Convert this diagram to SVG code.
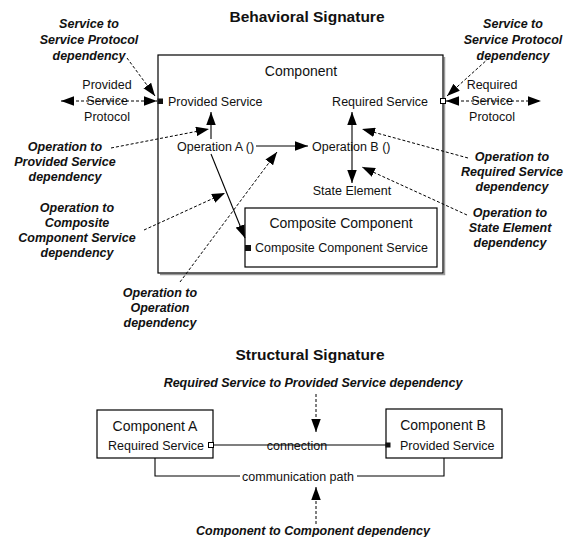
<svg xmlns="http://www.w3.org/2000/svg" width="574" height="537" viewBox="0 0 574 537">
<style>
text{font-family:"Liberation Sans",Arial,sans-serif;fill:#111}
.t{font-size:12.5px}
.big{font-size:14px}
.title{font-size:15.5px;font-weight:bold}
.lbl{font-size:12.5px;font-weight:bold;font-style:italic;text-anchor:middle}
.c{text-anchor:middle}
.box{fill:#fff;stroke:#000;stroke-width:1.2}
.shadow{fill:none;stroke:#9a9a9a;stroke-width:1.5}
.ln{fill:none;stroke:#000;stroke-width:1.1}
.dash{fill:none;stroke:#000;stroke-width:1;stroke-dasharray:3,2}
.arr{marker-end:url(#ah)}
.arr2{marker-start:url(#ah);marker-end:url(#ah)}
</style>
<defs>
<marker id="ah" markerUnits="userSpaceOnUse" markerWidth="14" markerHeight="10" refX="13" refY="4.75" orient="auto-start-reverse" viewBox="0 0 14 9.5">
<path d="M0,0 L13,4.75 L0,9.5 z" fill="#000"/>
</marker>
</defs>

<text class="title c" x="307" y="22">Behavioral Signature</text>

<g id="component">
<path class="shadow" d="M444.5,57 V274.5 H160"/>
<rect class="box" x="158" y="55" width="285" height="218"/>
<text class="big c" x="301" y="76">Component</text>
</g>

<g id="provided-service">
<text class="t" x="168" y="106">Provided Service</text>
</g>
<g id="required-service">
<text class="t" x="428" y="106" text-anchor="end">Required Service</text>
</g>
<g id="operation-a">
<text class="t" x="177" y="151">Operation A ()</text>
</g>
<g id="operation-b">
<text class="t" x="312" y="151">Operation B ()</text>
</g>
<g id="state-element">
<text class="t c" x="352" y="195">State Element</text>
</g>
<g id="composite-component">
<rect class="box" x="245" y="208" width="192" height="59"/>
<text class="big c" x="341" y="228">Composite Component</text>
<text class="t" x="255" y="252">Composite Component Service</text>
</g>

<g id="provided-protocol">
<text class="t c" x="107" y="89">Provided</text>
<text class="t c" x="107" y="105">Service</text>
<text class="t c" x="107" y="121">Protocol</text>
</g>
<g id="required-protocol">
<text class="t c" x="492" y="89">Required</text>
<text class="t c" x="492" y="105">Service</text>
<text class="t c" x="492" y="121">Protocol</text>
</g>

<g id="labels-behavioral">
<text class="lbl" x="89" y="28">Service to</text>
<text class="lbl" x="89" y="44">Service Protocol</text>
<text class="lbl" x="89" y="60">dependency</text>
<text class="lbl" x="513" y="28">Service to</text>
<text class="lbl" x="513" y="44">Service Protocol</text>
<text class="lbl" x="513" y="60">dependency</text>
<text class="lbl" x="65" y="151">Operation to</text>
<text class="lbl" x="65" y="166">Provided Service</text>
<text class="lbl" x="65" y="181">dependency</text>
<text class="lbl" x="77" y="212">Operation to</text>
<text class="lbl" x="77" y="227">Composite</text>
<text class="lbl" x="77" y="242">Component Service</text>
<text class="lbl" x="77" y="257">dependency</text>
<text class="lbl" x="160" y="297">Operation to</text>
<text class="lbl" x="160" y="312">Operation</text>
<text class="lbl" x="160" y="327">dependency</text>
<text class="lbl" x="512" y="161">Operation to</text>
<text class="lbl" x="512" y="176">Required Service</text>
<text class="lbl" x="512" y="191">dependency</text>
<text class="lbl" x="510" y="217">Operation to</text>
<text class="lbl" x="510" y="232">State Element</text>
<text class="lbl" x="510" y="247">dependency</text>
</g>

<g id="connectors-behavioral">
<line class="dash arr2" x1="61" y1="101" x2="157" y2="101"/>
<line class="dash arr2" x1="446" y1="101" x2="541" y2="101"/>
<line class="ln arr" x1="211" y1="139" x2="211" y2="112"/>
<line class="ln arr" x1="256" y1="146" x2="308" y2="146"/>
<line class="ln arr2" x1="352" y1="112" x2="352" y2="183"/>
<line class="ln arr" x1="211" y1="154" x2="245" y2="238"/>
<line class="dash arr" x1="127" y1="58" x2="155" y2="96"/>
<line class="dash arr" x1="489" y1="58" x2="447" y2="96"/>
<line class="dash arr" x1="111" y1="148" x2="209" y2="129"/>
<line class="dash arr" x1="144" y1="230" x2="225" y2="193"/>
<line class="dash arr" x1="180" y1="282" x2="277" y2="152"/>
<line class="dash arr" x1="468" y1="158" x2="362" y2="129"/>
<line class="dash arr" x1="467" y1="215" x2="362" y2="167"/>
<rect x="157.5" y="98.5" width="5.5" height="5.5" fill="#111"/>
<rect x="440.5" y="98.5" width="5" height="5" fill="#fff" stroke="#000" stroke-width="1"/>
<rect x="245" y="245" width="6" height="6" fill="#111"/>
</g>

<text class="title c" x="310" y="360">Structural Signature</text>

<g id="component-a">
<rect class="box" x="97" y="410" width="116" height="48"/>
<text class="big c" x="155" y="431">Component A</text>
<text class="t" x="108" y="449.5">Required Service</text>
</g>
<g id="component-b">
<rect class="box" x="386" y="409" width="116" height="49"/>
<text class="big c" x="443" y="430">Component B</text>
<text class="t" x="400" y="449.5">Provided Service</text>
</g>

<g id="labels-structural">
<text class="lbl" x="313" y="387">Required Service to Provided Service dependency</text>
<text class="lbl" x="313" y="535">Component to Component dependency</text>
<text class="t c" x="297" y="450">connection</text>
<text class="t c" x="298" y="480.5">communication path</text>
</g>

<g id="connectors-structural">
<line class="ln" x1="213.5" y1="445" x2="386" y2="445"/>
<path class="ln" d="M155,458 V476 H240 M357,476 H444 V458"/>
<line class="dash arr" x1="316" y1="394" x2="316" y2="432"/>
<line class="dash arr" x1="316" y1="524" x2="316" y2="487"/>
<rect x="208.5" y="442.5" width="5" height="5" fill="#fff" stroke="#000" stroke-width="1"/>
<rect x="385.5" y="442.5" width="5" height="5" fill="#111"/>
</g>
</svg>
